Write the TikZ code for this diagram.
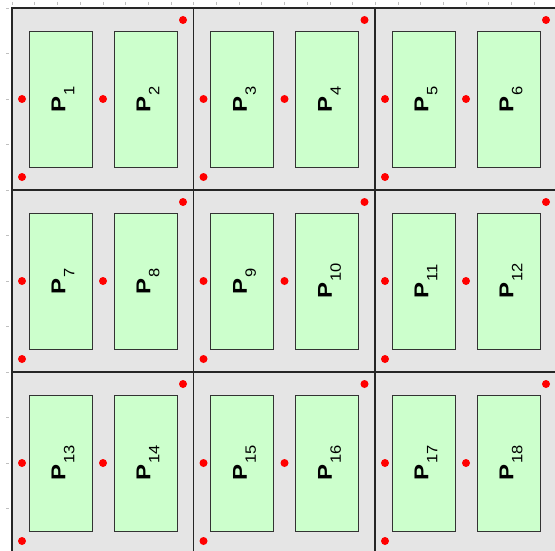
\documentclass[tikz,border=0pt]{standalone}
\usepackage{fontspec}
\setmainfont{Liberation Sans}
\newcommand{\plab}[1]{\scalebox{1.2}[1]{\fontsize{20pt}{20pt}\selectfont\bfseries P}\hspace{1pt}\raisebox{-9pt}{\scalebox{1.1}[1]{\fontsize{15pt}{15pt}\selectfont #1}}}
\begin{document}
\begin{tikzpicture}[x={(1pt,0)},y={(0,-1pt)},
  panel/.style={draw=black!80,fill=green!20,line width=0.9pt,minimum width=63pt,minimum height=136pt,inner sep=0pt},
  plabel/.style={rotate=90,inner sep=0pt},
  pin/.style={circle,fill=red,inner sep=0pt,minimum size=8pt},
  grid line/.style={draw=black!85,line width=1.3pt},
  tick/.style={draw=black!25,line width=0.6pt}]
\useasboundingbox (0,0) rectangle (555,551);
\fill[white] (0,0) rectangle (555,551);
\fill[black!10] (12,8) rectangle (555,551);
% ruler ticks
\foreach \k in {0,...,23} {
  \draw[tick] ({12+22.7*\k},2) -- ({12+22.7*\k},5);
}
\foreach \k in {0,...,12} {
  \draw[tick] (6,{8+45.5*\k}) -- (9,{8+45.5*\k});
}
% panels
\foreach \r in {0,1,2} {
  \foreach \c in {0,1,2} {
    \pgfmathsetmacro{\xo}{12+181.5*\c}
    \pgfmathsetmacro{\yo}{8+182*\r}
    \pgfmathtruncatemacro{\na}{6*\r+2*\c+1}
    \pgfmathtruncatemacro{\nb}{6*\r+2*\c+2}
    \node[panel] (p\na) at (\xo+48.5,\yo+91) {};
    \node[panel] (p\nb) at (\xo+133.5,\yo+91) {};
    \node[plabel] (l\na) at (\xo+51,\yo+91) {\plab{\na}};
    \node[plabel] (l\nb) at (\xo+136,\yo+91) {\plab{\nb}};
    \node[pin] (da\na) at (\xo+171,\yo+12) {};
    \node[pin] (db\na) at (\xo+10,\yo+91) {};
    \node[pin] (dc\na) at (\xo+91,\yo+91) {};
    \node[pin] (dd\na) at (\xo+10,\yo+169) {};
  }
}
% grid lines
\draw[grid line] (12,551) -- (12,8) -- (555,8);
\draw[grid line] (193.5,8) -- (193.5,551);
\draw[grid line] (375,8) -- (375,551);
\draw[grid line] (12,190) -- (555,190);
\draw[grid line] (12,372) -- (555,372);
\end{tikzpicture}
\end{document}
